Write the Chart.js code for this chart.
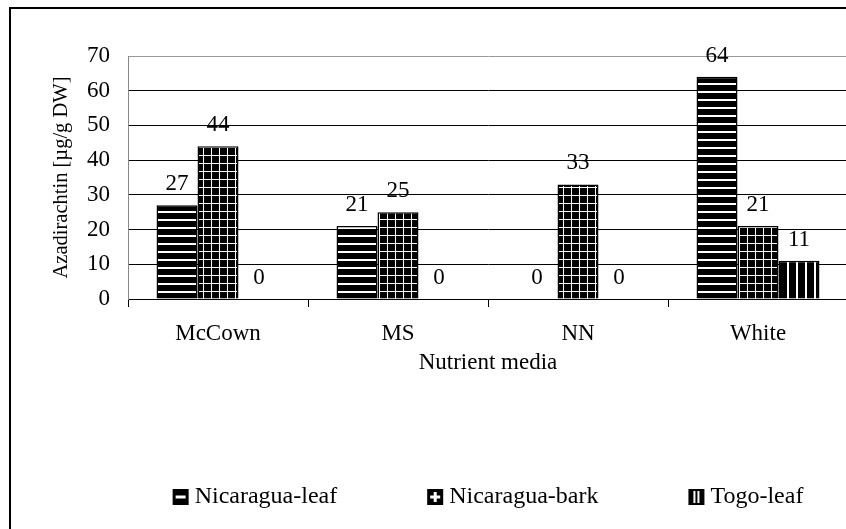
<!DOCTYPE html>
<html>
<head>
<meta charset="utf-8">
<title>Azadirachtin by nutrient medium</title>
<script src="https://cdn.jsdelivr.net/npm/chart.js@4.4.1/dist/chart.umd.min.js"></script>
<style>
  html, body { margin: 0; padding: 0; background: #fff; overflow: hidden; }
  #wrap { position: relative; width: 848px; height: 529px; }
</style>
</head>
<body>
<div id="wrap"><canvas id="chart" width="848" height="529"></canvas></div>
<script>
const media = ['McCown', 'MS', 'NN', 'White'];
const nicaraguaLeaf = [27, 21, 0, 64];
const nicaraguaBark = [44, 25, 33, 21];
const togoLeaf = [0, 0, 0, 11];
const yTicks = [0, 10, 20, 30, 40, 50, 60, 70];

const serif = '"Liberation Serif", "Times New Roman", serif';
const canvas = document.getElementById('chart');

// black fills with white hatching, like the old b/w Excel patterns
function makePattern(kind) {
    const size = kind === 'v' ? 9 : 8;
    const c = document.createElement('canvas');
    c.width = size;
    c.height = size;
    const g = c.getContext('2d');
    g.fillStyle = '#000';
    g.fillRect(0, 0, size, size);
    g.fillStyle = '#fff';
    if (kind === 'h') g.fillRect(0, 3, size, 2);
    if (kind === 'g') {
        g.fillRect(0, 3, size, 1);
        g.fillRect(3, 0, 1, size);
    }
    if (kind === 'v') g.fillRect(4, 0, 2, size);
    return canvas.getContext('2d').createPattern(c, 'repeat');
}

const frame = {
    id: 'frame',
    beforeDraw(chart) {
        const ctx = chart.ctx;
        ctx.save();
        ctx.fillStyle = '#fff';
        ctx.fillRect(0, 0, chart.width, chart.height);
        ctx.fillStyle = '#000';
        ctx.fillRect(9, 7, 2, chart.height - 7);
        ctx.fillRect(9, 7, chart.width, 2);
        ctx.restore();
    }
};

const valueLabels = {
    id: 'valueLabels',
    afterDatasetsDraw(chart) {
        const ctx = chart.ctx;
        ctx.save();
        ctx.font = '23px ' + serif;
        ctx.fillStyle = '#000';
        ctx.textAlign = 'center';
        ctx.textBaseline = 'alphabetic';
        chart.data.datasets.forEach((ds, i) => {
            chart.getDatasetMeta(i).data.forEach((bar, j) => {
                ctx.fillText(String(ds.data[j]), bar.x, bar.y - 15);
            });
        });
        ctx.restore();
    }
};

const bottomLegend = {
    id: 'bottomLegend',
    afterDraw(chart) {
        const ctx = chart.ctx;
        const ds = chart.data.datasets;
        const box = 16, textGap = 6, itemGap = 90, y = 497;
        ctx.save();
        ctx.font = '24px ' + serif;
        const widths = ds.map(d => box + textGap + ctx.measureText(d.label).width);
        const total = widths.reduce((a, b) => a + b, 0) + itemGap * (ds.length - 1);
        let x = (chart.chartArea.left + chart.chartArea.right) / 2 - total / 2;
        ds.forEach((d, i) => {
            ctx.fillStyle = '#000';
            ctx.fillRect(x, y - 8, box, box);
            ctx.fillStyle = '#fff';
            if (d.mark === 'h') ctx.fillRect(x + 3, y - 1.5, 10, 3);
            if (d.mark === 'g') {
                ctx.fillRect(x + 3, y - 1.5, 10, 3);
                ctx.fillRect(x + 6.5, y - 5, 3, 10);
            }
            if (d.mark === 'v') {
                ctx.fillRect(x + 5, y - 6, 2, 12);
                ctx.fillRect(x + 9, y - 6, 2, 12);
            }
            ctx.fillStyle = '#000';
            ctx.textAlign = 'left';
            ctx.textBaseline = 'middle';
            ctx.fillText(d.label, x + box + textGap, y);
            x += widths[i] + itemGap;
        });
        ctx.restore();
    }
};

new Chart(canvas, {
    type: 'bar',
    data: {
        labels: media,
        datasets: [
            { label: 'Nicaragua-leaf', mark: 'h', data: nicaraguaLeaf, backgroundColor: makePattern('h'), borderColor: '#000', borderWidth: 1.5 },
            { label: 'Nicaragua-bark', mark: 'g', data: nicaraguaBark, backgroundColor: makePattern('g'), borderColor: '#000', borderWidth: 1.5 },
            { label: 'Togo-leaf', mark: 'v', data: togoLeaf, backgroundColor: makePattern('v'), borderColor: '#000', borderWidth: 1.5 }
        ]
    },
    options: {
        responsive: false,
        animation: false,
        layout: { padding: { left: 49, top: 56, right: 0, bottom: 152 } },
        datasets: { bar: { categoryPercentage: 0.683, barPercentage: 1 } },
        plugins: {
            legend: { display: false },
            tooltip: { enabled: false }
        },
        scales: {
            x: {
                grid: { offset: true, drawOnChartArea: false, drawTicks: true, tickLength: 8, color: '#000', lineWidth: 1 },
                border: { color: '#000', width: 1 },
                ticks: { color: '#000', font: { family: serif, size: 23 }, padding: 13, maxRotation: 0 },
                title: { display: true, text: 'Nutrient media', color: '#000', font: { family: serif, size: 23 }, padding: 0 },
                afterFit: s => { s.height = 78; }
            },
            y: {
                min: 0,
                max: 70,
                afterBuildTicks: s => { s.ticks = yTicks.map(v => ({ value: v })); },
                grid: { color: c => (c.tick && c.tick.value === 70 ? '#999' : '#000'), lineWidth: 1, drawTicks: false },
                border: { display: true, color: '#888', width: 1 },
                ticks: { color: '#000', font: { family: serif, size: 23 }, padding: 18 },
                title: { display: true, text: 'Azadirachtin [µg/g DW]', color: '#000', font: { family: serif, size: 20.5 }, padding: 0 },
                afterFit: s => { s.width = 79; }
            }
        }
    },
    plugins: [frame, valueLabels, bottomLegend]
});
</script>
</body>
</html>
